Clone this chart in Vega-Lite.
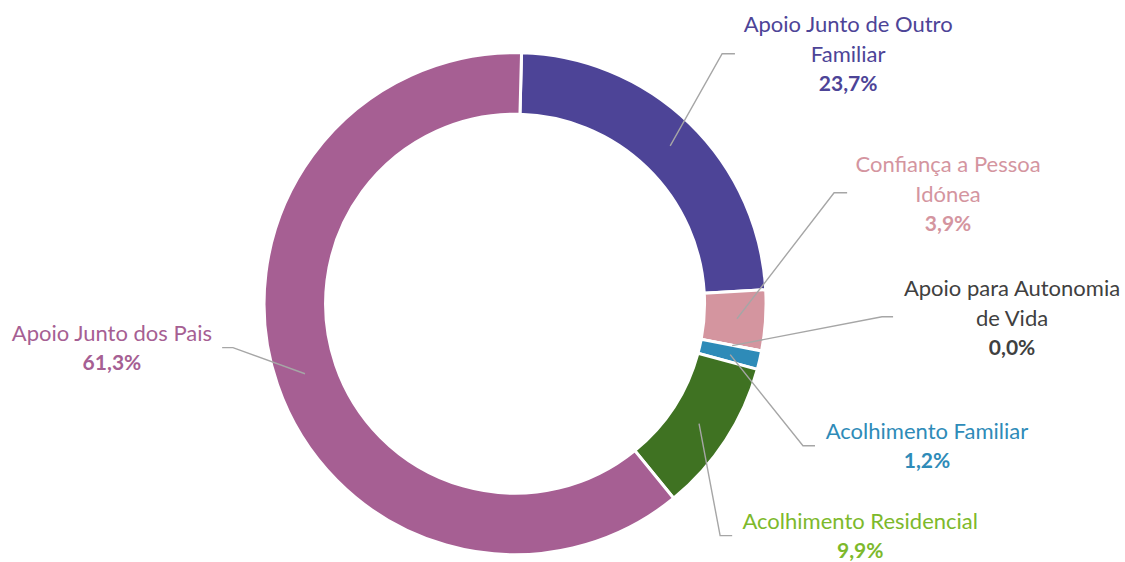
{
  "$schema": "https://vega.github.io/schema/vega-lite/v6.json",
  "width": 1125,
  "height": 562,
  "autosize": {"type": "fit", "contains": "padding"},
  "padding": 0,
  "background": "white",
  "config": {
    "view": {"stroke": null},
    "locale": {"number": {"decimal": ",", "thousands": ".", "grouping": [3], "currency": ["", " €"]}}
  },
  "datasets": {
    "dados": [
      {"categoria": "Apoio Junto de Outro Familiar", "valor": 0.237, "ordem": 1},
      {"categoria": "Confiança a Pessoa Idónea", "valor": 0.039, "ordem": 2},
      {"categoria": "Apoio para Autonomia de Vida", "valor": 0.0, "ordem": 3},
      {"categoria": "Acolhimento Familiar", "valor": 0.012, "ordem": 4},
      {"categoria": "Acolhimento Residencial", "valor": 0.099, "ordem": 5},
      {"categoria": "Apoio Junto dos Pais", "valor": 0.613, "ordem": 6}
    ],
    "rotulos": [
      {"categoria": "Apoio Junto de Outro Familiar", "texto": "Apoio Junto de Outro\nFamiliar", "x": 1.327, "y": 0.873},
      {"categoria": "Confiança a Pessoa Idónea", "texto": "Confiança a Pessoa\nIdónea", "x": 1.725, "y": 0.315},
      {"categoria": "Apoio para Autonomia de Vida", "texto": "Apoio para Autonomia\nde Vida", "x": 1.98, "y": -0.179},
      {"categoria": "Acolhimento Familiar", "texto": "Acolhimento Familiar", "x": 1.641, "y": -0.629},
      {"categoria": "Acolhimento Residencial", "texto": "Acolhimento Residencial", "x": 1.375, "y": -0.988},
      {"categoria": "Apoio Junto dos Pais", "texto": "Apoio Junto dos Pais", "x": -1.606, "y": -0.239}
    ],
    "linhas": [
      {"categoria": "Apoio Junto de Outro Familiar", "ponto": 1, "x": 0.618, "y": 0.629},
      {"categoria": "Apoio Junto de Outro Familiar", "ponto": 2, "x": 0.825, "y": 0.996},
      {"categoria": "Apoio Junto de Outro Familiar", "ponto": 3, "x": 0.876, "y": 0.996},
      {"categoria": "Confiança a Pessoa Idónea", "ponto": 1, "x": 0.884, "y": -0.06},
      {"categoria": "Confiança a Pessoa Idónea", "ponto": 2, "x": 1.271, "y": 0.442},
      {"categoria": "Confiança a Pessoa Idónea", "ponto": 3, "x": 1.323, "y": 0.442},
      {"categoria": "Apoio para Autonomia de Vida", "ponto": 1, "x": 0.865, "y": -0.167},
      {"categoria": "Apoio para Autonomia de Vida", "ponto": 2, "x": 1.462, "y": -0.052},
      {"categoria": "Apoio para Autonomia de Vida", "ponto": 3, "x": 1.506, "y": -0.052},
      {"categoria": "Acolhimento Familiar", "ponto": 1, "x": 0.857, "y": -0.203},
      {"categoria": "Acolhimento Familiar", "ponto": 2, "x": 1.147, "y": -0.566},
      {"categoria": "Acolhimento Familiar", "ponto": 3, "x": 1.195, "y": -0.566},
      {"categoria": "Acolhimento Residencial", "ponto": 1, "x": 0.733, "y": -0.478},
      {"categoria": "Acolhimento Residencial", "ponto": 2, "x": 0.817, "y": -0.924},
      {"categoria": "Acolhimento Residencial", "ponto": 3, "x": 0.865, "y": -0.924},
      {"categoria": "Apoio Junto dos Pais", "ponto": 1, "x": -0.837, "y": -0.279},
      {"categoria": "Apoio Junto dos Pais", "ponto": 2, "x": -1.124, "y": -0.175},
      {"categoria": "Apoio Junto dos Pais", "ponto": 3, "x": -1.167, "y": -0.175}
    ]
  },
  "resolve": {"scale": {"color": "independent"}},
  "layer": [
    {
      "data": {"name": "dados"},
      "mark": {"type": "arc", "outerRadius": 251, "innerRadius": 189.5, "stroke": "white", "strokeWidth": 3},
      "encoding": {
        "x": {"datum": 0, "type": "quantitative", "scale": {"domain": [-2.052, 2.43], "nice": false, "zero": false}, "axis": null},
        "y": {"datum": 0, "type": "quantitative", "scale": {"domain": [-1.029, 1.21], "nice": false, "zero": false}, "axis": null},
        "theta": {"field": "valor", "type": "quantitative", "stack": true, "scale": {"range": [0.026, 6.309]}},
        "order": {"field": "ordem", "type": "quantitative"},
        "color": {
          "field": "categoria", "type": "nominal", "legend": null,
          "scale": {
            "domain": ["Apoio Junto de Outro Familiar", "Confiança a Pessoa Idónea", "Apoio para Autonomia de Vida", "Acolhimento Familiar", "Acolhimento Residencial", "Apoio Junto dos Pais"],
            "range": ["#4D4497", "#D4959F", "#404040", "#2E8BB8", "#3F7222", "#A65F93"]
          }
        }
      }
    },
    {
      "data": {"name": "linhas"},
      "mark": {"type": "line", "color": "#A6A6A6", "strokeWidth": 1.4},
      "encoding": {
        "x": {"field": "x", "type": "quantitative", "scale": {"domain": [-2.052, 2.43], "nice": false, "zero": false}, "axis": null},
        "y": {"field": "y", "type": "quantitative", "scale": {"domain": [-1.029, 1.21], "nice": false, "zero": false}, "axis": null},
        "detail": {"field": "categoria"},
        "order": {"field": "ponto", "type": "quantitative"}
      }
    },
    {
      "data": {"name": "rotulos"},
      "transform": [{"filter": "indexof(datum.texto, '\\n') >= 0"}],
      "mark": {"type": "text", "font": "Lato", "fontSize": 22, "align": "center", "baseline": "middle", "lineBreak": "\n", "lineHeight": 30, "dy": -60},
      "encoding": {
        "x": {"field": "x", "type": "quantitative", "scale": {"domain": [-2.052, 2.43], "nice": false, "zero": false}, "axis": null},
        "y": {"field": "y", "type": "quantitative", "scale": {"domain": [-1.029, 1.21], "nice": false, "zero": false}, "axis": null},
        "text": {"field": "texto"},
        "color": {
          "field": "categoria", "type": "nominal", "legend": null,
          "scale": {
            "domain": ["Apoio Junto de Outro Familiar", "Confiança a Pessoa Idónea", "Apoio para Autonomia de Vida", "Acolhimento Familiar", "Acolhimento Residencial", "Apoio Junto dos Pais"],
            "range": ["#4D4497", "#D4959F", "#404040", "#2E8BB8", "#7DB92B", "#A65F93"]
          }
        }
      }
    },
    {
      "data": {"name": "rotulos"},
      "transform": [{"filter": "indexof(datum.texto, '\\n') < 0"}],
      "mark": {"type": "text", "font": "Lato", "fontSize": 22, "align": "center", "baseline": "middle", "dy": -30},
      "encoding": {
        "x": {"field": "x", "type": "quantitative", "scale": {"domain": [-2.052, 2.43], "nice": false, "zero": false}, "axis": null},
        "y": {"field": "y", "type": "quantitative", "scale": {"domain": [-1.029, 1.21], "nice": false, "zero": false}, "axis": null},
        "text": {"field": "texto"},
        "color": {
          "field": "categoria", "type": "nominal", "legend": null,
          "scale": {
            "domain": ["Apoio Junto de Outro Familiar", "Confiança a Pessoa Idónea", "Apoio para Autonomia de Vida", "Acolhimento Familiar", "Acolhimento Residencial", "Apoio Junto dos Pais"],
            "range": ["#4D4497", "#D4959F", "#404040", "#2E8BB8", "#7DB92B", "#A65F93"]
          }
        }
      }
    },
    {
      "data": {"name": "rotulos"},
      "transform": [
        {"lookup": "categoria", "from": {"data": {"name": "dados"}, "key": "categoria", "fields": ["valor"]}}
      ],
      "mark": {"type": "text", "font": "Lato", "fontSize": 21, "fontWeight": "bold", "align": "center", "baseline": "middle"},
      "encoding": {
        "x": {"field": "x", "type": "quantitative", "scale": {"domain": [-2.052, 2.43], "nice": false, "zero": false}, "axis": null},
        "y": {"field": "y", "type": "quantitative", "scale": {"domain": [-1.029, 1.21], "nice": false, "zero": false}, "axis": null},
        "text": {"field": "valor", "type": "quantitative", "format": ".1%"},
        "color": {
          "field": "categoria", "type": "nominal", "legend": null,
          "scale": {
            "domain": ["Apoio Junto de Outro Familiar", "Confiança a Pessoa Idónea", "Apoio para Autonomia de Vida", "Acolhimento Familiar", "Acolhimento Residencial", "Apoio Junto dos Pais"],
            "range": ["#4D4497", "#D4959F", "#404040", "#2E8BB8", "#7DB92B", "#A65F93"]
          }
        }
      }
    }
  ]
}
